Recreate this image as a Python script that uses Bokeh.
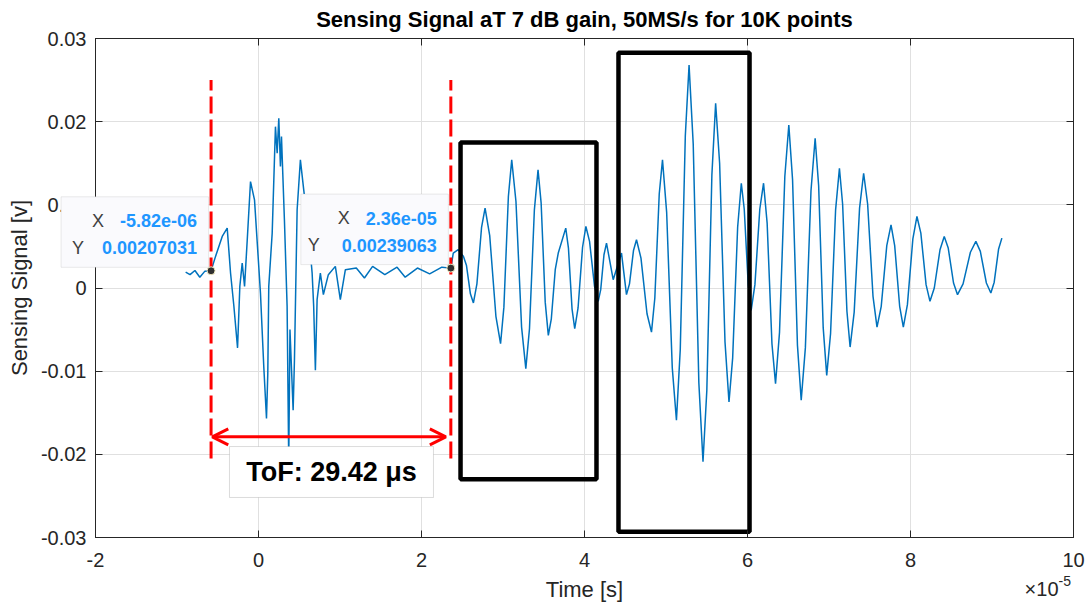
from bokeh.plotting import figure
from bokeh.models import (Range1d, FixedTicker, LinearAxis, CustomJSTickFormatter,
                          Label, BoxAnnotation, Arrow, OpenHead)
from bokeh.embed import file_html
from bokeh.resources import INLINE

# ---------------- data (time in units of 1e-5 s, signal in volts) ----------------
# first wave packet + quiet section (before the second cursor)
early_t = [-0.894, -0.84, -0.78, -0.72, -0.66, -0.582, -0.527, -0.445, -0.384, -0.343,
           -0.302, -0.257, -0.229, -0.200, -0.171, -0.138, -0.098, -0.049, 0.024, 0.065,
           0.098, 0.114, 0.126, 0.168, 0.208, 0.229, 0.249, 0.269, 0.282, 0.318,
           0.351, 0.371, 0.386, 0.425, 0.441, 0.474, 0.514, 0.555, 0.616, 0.658,
           0.677, 0.698, 0.719, 0.759, 0.796, 0.857, 0.943, 1.004, 1.066, 1.20,
           1.30, 1.40, 1.55, 1.70, 1.80, 1.95, 2.10, 2.25]
early_v = [0.0019, 0.0016, 0.0021, 0.0013, 0.0020, 0.00207, 0.0038, 0.0062, 0.0072, 0.0018,
           -0.0022, -0.0072, 0.0002, 0.0030, 0.0002, 0.0058, 0.0128, 0.0106, -0.0006, -0.0095,
           -0.0157, -0.0103, 0.0002, 0.0066, 0.0194, 0.0162, 0.0204, 0.0146, 0.0182, 0.0082,
           -0.0022, -0.0209, -0.0050, -0.0147, -0.0087, 0.0094, 0.0154, 0.0118, 0.0066, 0.0018,
           -0.0022, -0.0099, -0.0014, 0.0018, -0.0008, 0.0016, 0.0026, -0.0014, 0.0022, 0.0024,
           0.0012, 0.0026, 0.0016, 0.0025, 0.0013, 0.0024, 0.0017, 0.0025]
# main burst (from the second cursor on)
burst_t = [2.36, 2.39, 2.45, 2.515, 2.552, 2.600, 2.637, 2.680, 2.737, 2.78,
           2.837, 2.913, 2.97, 3.011, 3.066, 3.107, 3.159, 3.228, 3.28, 3.325,
           3.385, 3.43, 3.468, 3.518, 3.556, 3.593, 3.641, 3.678, 3.77, 3.803,
           3.847, 3.88, 3.921, 3.976, 4.017, 4.062, 4.123, 4.168, 4.199, 4.239,
           4.27, 4.352, 4.454, 4.515, 4.552, 4.601, 4.638, 4.693, 4.767, 4.822,
           4.863, 4.917, 4.957, 5.008, 5.077, 5.128, 5.175, 5.237, 5.283, 5.334,
           5.403, 5.454, 5.501, 5.563, 5.609, 5.658, 5.724, 5.773, 5.818, 5.879,
           5.924, 5.960, 6.009, 6.045, 6.091, 6.151, 6.197, 6.241, 6.300, 6.344,
           6.393, 6.458, 6.507, 6.553, 6.613, 6.659, 6.710, 6.779, 6.83, 6.873,
           6.929, 6.972, 7.019, 7.081, 7.128, 7.167, 7.220, 7.259, 7.309, 7.375,
           7.425, 7.474, 7.540, 7.589, 7.641, 7.709, 7.761, 7.806, 7.867, 7.912,
           7.962, 8.029, 8.079, 8.127, 8.191, 8.239, 8.292, 8.362, 8.414, 8.463,
           8.528, 8.577, 8.645, 8.735, 8.802, 8.857, 8.931, 8.986, 9.027, 9.081,
           9.121]
burst_v = [0.00239, 0.0042, 0.0046, 0.0038, 0.0027, -0.0007, -0.0018, 0.0005, 0.0073, 0.0096,
           0.0063, -0.0034, -0.0067, -0.0023, 0.0110, 0.0154, 0.0104, -0.0047, -0.0097, -0.0049,
           0.0094, 0.0142, 0.0102, -0.0017, -0.0057, -0.0037, 0.0022, 0.0042, 0.0072, 0.0048,
           -0.0025, -0.0049, -0.0024, 0.0049, 0.0074, 0.0056, 0.0002, -0.0016, -0.0002, 0.0040,
           0.0054, 0.0010, 0.0042, -0.0008, 0.0005, 0.0045, 0.0058, 0.0036, -0.0031, -0.0053,
           -0.0012, 0.0113, 0.0154, 0.0091, -0.0096, -0.0159, -0.0074, 0.0183, 0.0268, 0.0173,
           -0.0114, -0.0209, -0.0123, 0.0136, 0.0222, 0.0150, -0.0065, -0.0137, -0.0084, 0.0073,
           0.0126, 0.0095, 0.0004, -0.0027, 0.0004, 0.0095, 0.0126, 0.0078, -0.0067, -0.0115,
           -0.0053, 0.0134, 0.0196, 0.0130, -0.0069, -0.0135, -0.0072, 0.0117, 0.0180, 0.0123,
           -0.0048, -0.0105, -0.0055, 0.0094, 0.0144, 0.0101, -0.0028, -0.0071, -0.0029, 0.0096,
           0.0138, 0.0101, -0.0010, -0.0047, -0.0022, 0.0051, 0.0076, 0.0051, -0.0022, -0.0047,
           -0.0020, 0.0059, 0.0086, 0.0066, 0.0004, -0.0016, 0.0000, 0.0046, 0.0062, 0.0048,
           0.0006, -0.0008, 0.0005, 0.0043, 0.0056, 0.0044, 0.0006, -0.0006, 0.0007, 0.0047,
           0.0060]

x_ticks = [-2, 0, 2, 4, 6, 8, 10]
x_tick_labels = ["-2", "0", "2", "4", "6", "8", "10"]
y_ticks = [-0.03, -0.02, -0.01, 0, 0.01, 0.02, 0.03]
y_tick_labels = ["-0.03", "-0.02", "-0.01", "0", "0.01", "0.02", "0.03"]

cursor_t = [-0.582, 2.36]
cursor_v = [0.00207031, 0.00239063]
cursor_x_text = ["-5.82e-06", "2.36e-05"]
cursor_y_text = ["0.00207031", "0.00239063"]
tof_text = "ToF: 29.42 \u03bcs"

region_left = [2.479, 4.417]
region_right = [4.147, 6.025]
region_bottom = [-0.0230, -0.0293]
region_top = [0.0175, 0.0283]

title_text = "Sensing Signal aT 7 dB gain, 50MS/s for 10K points"

time_x1e5 = early_t + burst_t
signal_v = early_v + burst_v

# ---------------- geometry ----------------
FONT = "Liberation Sans"
AX = "#262626"
W, H = 1087, 606
ML, MR, MT, MB = 95, 14, 38, 69
XR = (-2, 10)
YR = (-0.03, 0.03)
DX = (XR[1] - XR[0]) / (W - ML - MR)   # data units per pixel
DY = (YR[1] - YR[0]) / (H - MT - MB)

# ---------------- main plot ----------------
p = figure(width=W, height=H, x_range=Range1d(*XR), y_range=Range1d(*YR),
           output_backend="svg", toolbar_location=None, title=None,
           min_border_left=ML, min_border_right=MR, min_border_top=MT, min_border_bottom=MB,
           background_fill_color="white", border_fill_color="white")
p.outline_line_color = AX
p.outline_line_width = 1

def style_axis(ax, ticks, labels, show_labels=True):
    ax.ticker = FixedTicker(ticks=ticks)
    ax.axis_line_color = AX
    ax.major_tick_line_color = AX
    ax.major_tick_in = 7
    ax.major_tick_out = 0
    ax.minor_tick_line_color = None
    if show_labels:
        ax.major_label_overrides = dict(zip(ticks, labels))
        ax.major_label_text_font = FONT
        ax.major_label_text_font_size = "20px"
        ax.major_label_text_color = AX
    else:
        ax.formatter = CustomJSTickFormatter(code="return ''")
        ax.major_label_standoff = 0
        ax.major_label_text_font_size = "1px"

xa = p.xaxis[0]
style_axis(xa, x_ticks, x_tick_labels)
xa.major_label_standoff = 15
xa.axis_label = "Time [s]"
xa.axis_label_text_font = FONT
xa.axis_label_text_font_size = "22px"
xa.axis_label_text_font_style = "normal"
xa.axis_label_text_color = AX
xa.axis_label_standoff = 7

ya = p.yaxis[0]
style_axis(ya, y_ticks, y_tick_labels)
ya.major_label_standoff = 9
ya.axis_label = "Sensing Signal [v]"
ya.axis_label_text_font = FONT
ya.axis_label_text_font_size = "22px"
ya.axis_label_text_font_style = "normal"
ya.axis_label_text_color = AX
ya.axis_label_standoff = 6

top_ax = LinearAxis()
style_axis(top_ax, x_ticks, x_tick_labels, show_labels=False)
p.add_layout(top_ax, "above")
right_ax = LinearAxis()
style_axis(right_ax, y_ticks, y_tick_labels, show_labels=False)
p.add_layout(right_ax, "right")

p.xgrid.ticker = FixedTicker(ticks=x_ticks)
p.ygrid.ticker = FixedTicker(ticks=y_ticks)
p.grid.grid_line_color = "#E0E0E0"
p.grid.grid_line_width = 1

# signal
p.line(time_x1e5, signal_v, line_color="#0072BD", line_width=1.5)

# highlighted regions
p.quad(left=region_left, right=region_right, bottom=region_bottom, top=region_top,
       fill_color=None, line_color="black", line_width=4.5)

# cursor lines
p.segment(x0=cursor_t, y0=[-0.0205, -0.0205], x1=cursor_t, y1=[0.025, 0.025],
          line_color="#FF0000", line_width=3, line_dash="17 6")

# ToF arrow
arrow_y = -0.0179
p.add_layout(Arrow(start=OpenHead(size=16, line_color="#FF0000", line_width=3),
                   end=OpenHead(size=16, line_color="#FF0000", line_width=3),
                   x_start=cursor_t[0] + 1.2 * DX, y_start=arrow_y,
                   x_end=cursor_t[1] - 5 * DX, y_end=arrow_y,
                   line_color="#FF0000", line_width=3))

# ToF text box
tof_l, tof_r, tof_t, tof_b = -0.356, 2.147, -0.01906, -0.02519
p.add_layout(BoxAnnotation(left=tof_l, right=tof_r, top=tof_t, bottom=tof_b,
                           fill_color="white", fill_alpha=1, line_color="#8C8C8C",
                           line_width=1, level="overlay"))
p.add_layout(Label(x=(tof_l + tof_r) / 2, y=(tof_t + tof_b) / 2, text=tof_text,
                   text_font=FONT, text_font_size="27px", text_font_style="bold",
                   text_color="black", text_align="center", text_baseline="middle",
                   level="overlay"))

# data tip markers
p.scatter(cursor_t, cursor_v, size=8, fill_color="#303030", line_color="#F5F0C8", line_width=1)

# ---------------- overlay root (same data coordinates, frame = whole canvas) ----------------
ov = figure(width=W, height=H,
            x_range=Range1d(XR[0] - ML * DX, XR[1] + MR * DX),
            y_range=Range1d(YR[0] - MB * DY, YR[1] + MT * DY),
            output_backend="svg", toolbar_location=None, title=None,
            x_axis_location=None, y_axis_location=None, min_border=0,
            background_fill_alpha=0, border_fill_alpha=0, outline_line_color=None,
            styles={"position": "absolute", "top": "0px", "left": "0px"})
ov.grid.visible = False

prefix_offsets = [(-107, -127), (-101, -131)]
for t, v, xs, ys, (oxx, oxy) in zip(cursor_t, cursor_v, cursor_x_text, cursor_y_text, prefix_offsets):
    ov.add_layout(BoxAnnotation(left=t - 150 * DX, right=t - 2.5 * DX,
                                bottom=v + 3.5 * DY, top=v + 74 * DY,
                                fill_color="#FAFAFD", fill_alpha=1, line_color="#B8B8B8",
                                line_width=1))
    for txt, yo in ((xs, 50), (ys, 23)):
        ov.add_layout(Label(x=t, y=v, x_offset=-14, y_offset=yo, text=txt,
                            text_font=FONT, text_font_size="18px", text_font_style="bold",
                            text_color="#1E96FF", text_align="right", text_baseline="middle"))
    ov.add_layout(Label(x=t, y=v, x_offset=oxx, y_offset=50, text="X",
                        text_font=FONT, text_font_size="18px", text_color="#404040",
                        text_align="right", text_baseline="middle"))
    ov.add_layout(Label(x=t, y=v, x_offset=oxy, y_offset=23, text="Y",
                        text_font=FONT, text_font_size="18px", text_color="#404040",
                        text_align="right", text_baseline="middle"))

# title
ov.add_layout(Label(x=(XR[0] + XR[1]) / 2, y=YR[1], y_offset=19, text=title_text,
                    text_font=FONT, text_font_size="22px", text_font_style="bold",
                    text_color="black", text_align="center", text_baseline="alphabetic"))

# exponent note
ov.add_layout(Label(x=XR[1], y=YR[0], x_offset=-15, y_offset=-51, text="\u00d710",
                    text_font=FONT, text_font_size="20px", text_color=AX,
                    text_align="right", text_baseline="alphabetic"))
ov.add_layout(Label(x=XR[1], y=YR[0], x_offset=-15, y_offset=-43, text="-5",
                    text_font=FONT, text_font_size="14px", text_color=AX,
                    text_align="left", text_baseline="alphabetic"))

open("out.html", "w").write(file_html([p, ov], INLINE))
